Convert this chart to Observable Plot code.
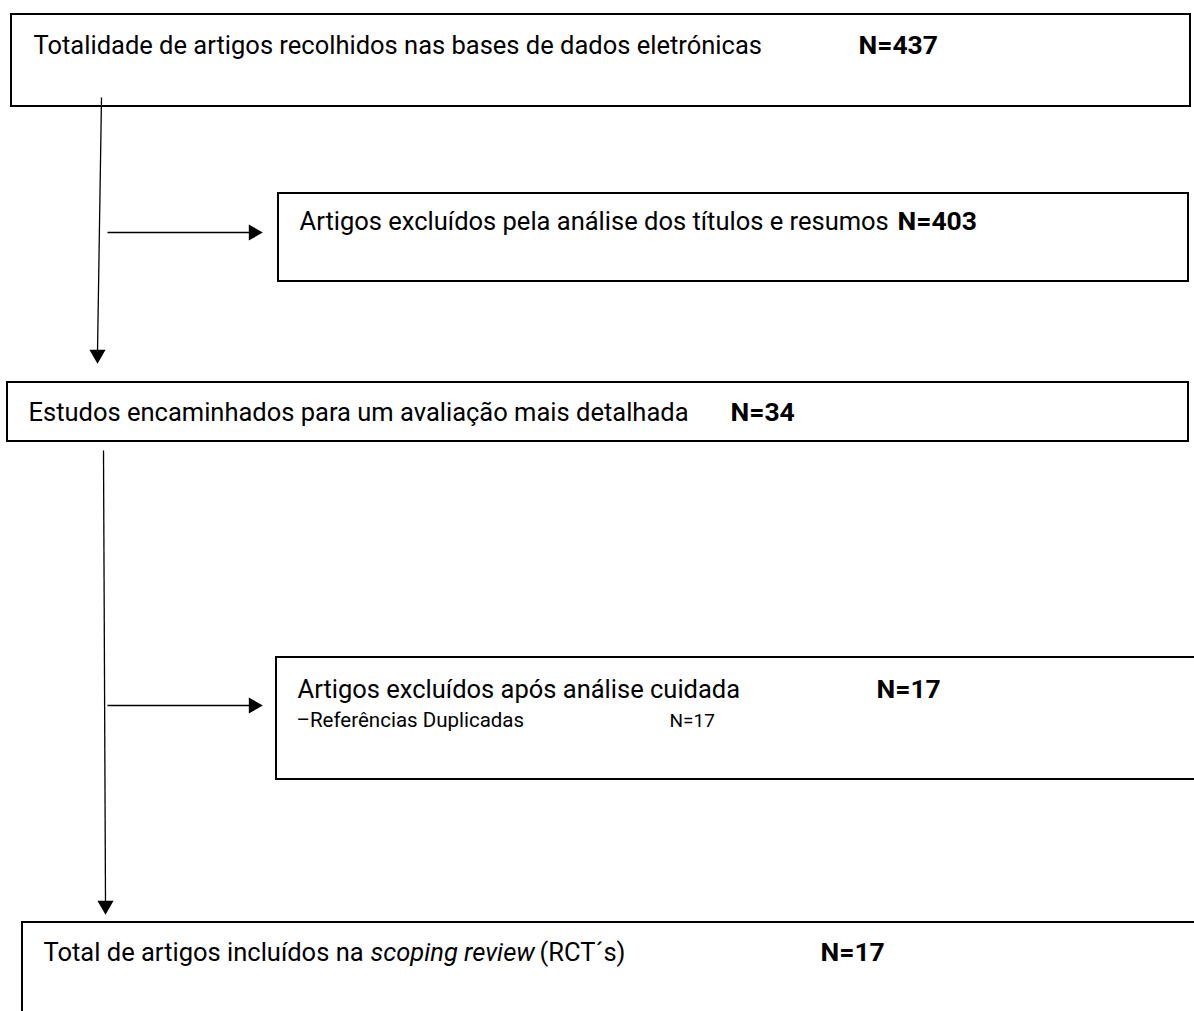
<!DOCTYPE html>
<html><head><meta charset="utf-8">
<script src="https://cdn.jsdelivr.net/npm/d3@7"></script>
<script src="https://cdn.jsdelivr.net/npm/@observablehq/plot@0.6"></script>
<style>body{margin:0;background:#fff;}</style>
</head><body><div id="chart"></div>
<script>
// ---- content ----
const stages = [
  "Totalidade de artigos recolhidos nas bases de dados eletrónicas",
  "Artigos excluídos pela análise dos títulos e resumos",
  "Estudos encaminhados para um avaliação mais detalhada",
  "Artigos excluídos após análise cuidada",
  "Total de artigos incluídos na"
];
const counts = [437, 403, 34, 17, 17];
const subLabels = ["–Referências Duplicadas"];
const subCounts = [17];
const finalItalic = ["scoping review"];
const finalSuffix = ["(RCT´s)"];

// ---- layout (pixel frame of the flowchart) ----
const boxLeft   = [11, 278, 7, 276, 22];
const boxTop    = [14, 193, 382, 657, 922];
const boxRight  = [1190, 1188, 1188, 1220, 1220];
const boxBottom = [106, 281, 441, 779, 1040];
const labelX = [33, 299, 28, 297, 43];
const labelY = [45, 221, 412, 689, 952];
const countX = [858, 897, 730, 876, 820];
const subX = [296], subNX = [669], subY = [720];
const italicX = [370], suffixX = [539];
const vLinks = [{x1: 101, y1: 97, x2: 97, y2: 352}, {x1: 103, y1: 450, x2: 105, y2: 903}];
const hLinks = [{x1: 107, y1: 232, x2: 250, y2: 232}, {x1: 107, y1: 705, x2: 250, y2: 705}];
const downHeads = [{x: 97, y: 354}, {x: 105, y: 905}];
const rightHeads = [{x: 253, y: 232}, {x: 253, y: 705}];

const boxes = stages.map((s, i) => ({x1: boxLeft[i], y1: boxTop[i], x2: boxRight[i], y2: boxBottom[i]}));
const labels = stages.map((s, i) => ({x: labelX[i], y: labelY[i], text: s}));
const nLabels = counts.map((c, i) => ({x: countX[i], y: labelY[i], text: "N=" + c}));
const subs = subLabels.map((s, i) => ({x: subX[i], y: subY[i], text: s}));
const subNs = subCounts.map((c, i) => ({x: subNX[i], y: subY[i], text: "N=" + c}));
const italics = finalItalic.map((t, i) => ({x: italicX[i], y: labelY[4], text: t}));
const suffixes = finalSuffix.map((t, i) => ({x: suffixX[i], y: labelY[4], text: t}));

const FONT = "Roboto, 'Noto Sans', sans-serif";

const chart = Plot.plot({
  width: 1194, height: 1011,
  margin: 0,
  x: {domain: [0, 1194], range: [0, 1194], axis: null},
  y: {domain: [0, 1011], range: [0, 1011], axis: null},
  style: {background: "#fff", fontFamily: FONT},
  marks: [
    Plot.rect(boxes, {x1: "x1", x2: "x2", y1: "y1", y2: "y2", fill: "none", stroke: "#000", strokeWidth: 2, clip: "frame"}),
    Plot.link(vLinks, {x1: "x1", y1: "y1", x2: "x2", y2: "y2", stroke: "#000", strokeWidth: 1.3}),
    Plot.link(hLinks, {x1: "x1", y1: "y1", x2: "x2", y2: "y2", stroke: "#000", strokeWidth: 1.3}),
    Plot.dot(downHeads, {x: "x", y: "y", symbol: "triangle", r: 6, fill: "#000", stroke: "none", rotate: 180}),
    Plot.dot(rightHeads, {x: "x", y: "y", symbol: "triangle", r: 6, fill: "#000", stroke: "none", rotate: 90}),
    Plot.text(labels, {x: "x", y: "y", text: "text", textAnchor: "start", fontSize: 25.5, fill: "#000", fontFamily: FONT}),
    Plot.text(nLabels, {x: "x", y: "y", text: "text", textAnchor: "start", fontSize: 26.5, fontWeight: "bold", fill: "#000", fontFamily: FONT}),
    Plot.text(subs, {x: "x", y: "y", text: "text", textAnchor: "start", fontSize: 20.5, fill: "#000", fontFamily: FONT}),
    Plot.text(subNs, {x: "x", y: "y", text: "text", textAnchor: "start", fontSize: 19, fill: "#000", fontFamily: FONT}),
    Plot.text(italics, {x: "x", y: "y", text: "text", textAnchor: "start", fontSize: 25.5, fontStyle: "italic", fill: "#000", fontFamily: FONT}),
    Plot.text(suffixes, {x: "x", y: "y", text: "text", textAnchor: "start", fontSize: 25.5, fill: "#000", fontFamily: FONT})
  ]
});
document.getElementById("chart").append(chart);
</script>
</body></html>
